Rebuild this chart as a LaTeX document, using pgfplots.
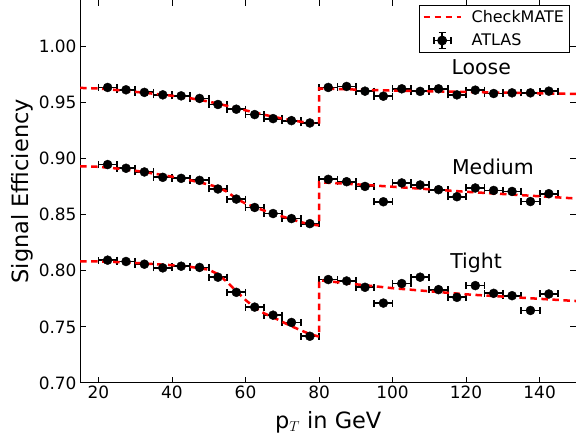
\documentclass[border=0pt]{standalone}
\usepackage{fontspec}
\setmainfont{DejaVu Sans}
\usepackage{pgfplots}
\pgfplotsset{compat=1.18}

% ATLAS measurement: bin centre (GeV) and efficiency
\pgfplotstableread{
x     y
22.5  0.9636
27.5  0.9615
32.5  0.9592
37.5  0.9570
42.5  0.9561
47.5  0.9538
52.5  0.9484
57.5  0.9442
62.5  0.9394
67.5  0.9358
72.5  0.9340
77.5  0.9319
82.5  0.9636
87.5  0.9645
92.5  0.9603
97.5  0.9558
102.5 0.9624
107.5 0.9601
112.5 0.9624
117.5 0.9570
122.5 0.9612
127.5 0.9582
132.5 0.9588
137.5 0.9588
142.5 0.9603
}\looseatlas
\pgfplotstableread{
x     y
22.5  0.8948
27.5  0.8915
32.5  0.8882
37.5  0.8834
42.5  0.8825
47.5  0.8807
52.5  0.8730
57.5  0.8640
62.5  0.8565
67.5  0.8511
72.5  0.8466
77.5  0.8421
82.5  0.8816
87.5  0.8795
92.5  0.8753
97.5  0.8616
102.5 0.8784
107.5 0.8766
112.5 0.8724
117.5 0.8661
122.5 0.8739
127.5 0.8717
132.5 0.8708
137.5 0.8618
142.5 0.8688
}\mediumatlas
\pgfplotstableread{
x     y
22.5  0.8095
27.5  0.8083
32.5  0.8059
37.5  0.8026
42.5  0.8041
47.5  0.8030
52.5  0.7943
57.5  0.7808
62.5  0.7676
67.5  0.7604
72.5  0.7539
77.5  0.7416
82.5  0.7922
87.5  0.7909
92.5  0.7853
97.5  0.7712
102.5 0.7886
107.5 0.7943
112.5 0.7832
117.5 0.7763
122.5 0.7868
127.5 0.7799
132.5 0.7778
137.5 0.7646
142.5 0.7793
}\tightatlas

% CheckMATE parametrisation (step at 80 GeV)
\pgfplotstableread{
x    y
15   0.9632
20   0.9627
25   0.9613
30   0.9597
35   0.9580
40   0.9562
45   0.9540
50   0.9510
55   0.9472
60   0.9432
65   0.9393
70   0.9358
75   0.9330
80   0.9312
80   0.9627
90   0.9617
100  0.9608
120  0.9596
150  0.9578
}\loosecm
\pgfplotstableread{
x    y
15   0.8933
20   0.8928
25   0.8913
30   0.8893
35   0.8868
40   0.8840
45   0.8808
50   0.8770
52.5 0.8745
55   0.8705
57.5 0.8645
60   0.8600
62.5 0.8568
65   0.8538
67.5 0.8510
70   0.8485
72.5 0.8460
75   0.8435
77.5 0.8415
80   0.8405
80   0.8790
90   0.8772
100  0.8750
120  0.8705
150  0.8645
}\mediumcm
\pgfplotstableread{
x    y
15   0.8083
20   0.8083
25   0.8078
30   0.8070
35   0.8060
40   0.8050
45   0.8035
50   0.8010
52.5 0.7970
55   0.7900
57.5 0.7818
60   0.7740
62.5 0.7672
65   0.7622
67.5 0.7585
70   0.7545
72.5 0.7505
75   0.7470
77.5 0.7435
80   0.7413
80   0.7916
90   0.7880
100  0.7845
120  0.7790
150  0.7730
}\tightcm

\newcommand{\tickfont}{\fontsize{17}{20}\selectfont}
\newcommand{\legendfont}{\fontsize{16}{19}\selectfont}
\newcommand{\labelfont}{\fontsize{22.5}{26}\selectfont}
\newcommand{\notefont}{\fontsize{20.5}{24}\selectfont}

\tikzset{
  cmline/.style={red, line width=2.5bp, dash pattern=on 6.5bp off 4.5bp},
  ebar/.style={black, line width=1.8bp},
}
\pgfplotsset{
  atlas/.style={
    black, only marks, mark=*, mark size=4.5bp,
    mark options={draw=black, fill=black},
    error bars/x dir=both, error bars/x fixed=2.5,
    error bars/error bar style={line width=1.8bp},
    error bars/error mark options={line width=1.8bp, mark size=3.5bp, rotate=90},
  },
  checkmate/.style={cmline, no markers},
}

\begin{document}
\begin{tikzpicture}
\begin{axis}[
  at={(0,0)}, anchor=south west,
  scale only axis, width=496bp, height=383bp,
  xmin=15, xmax=150, ymin=0.70, ymax=1.042,
  xtick={20,40,60,80,100,120,140},
  ytick={0.70,0.75,0.80,0.85,0.90,0.95,1.00},
  tick align=inside, major tick length=6bp,
  tick style={black, line width=0.8bp},
  axis line style={line width=1bp},
  minor tick num=0,
  /pgf/number format/assume math mode=true,
  ticklabel style={font=\tickfont},
  yticklabel style={/pgf/number format/.cd, fixed, fixed zerofill, precision=2},
  xticklabel style={/pgf/number format/.cd, fixed, precision=0},
  every axis y label/.style={at={(axis description cs:-0.117,0.5)}, anchor=center, rotate=90, font=\labelfont},
  every axis x label/.style={at={(axis description cs:0.5,-0.120)}, anchor=base, font=\labelfont},
  xlabel={p$_{T}$ in GeV},
  ylabel={Signal Efficiency},
  legend style={at={(1,1)}, anchor=north east, xshift=-7bp, yshift=-5bp,
    draw=black, line width=0.8bp, fill=white, font=\legendfont,
    inner sep=3bp, row sep=6bp,
    cells={anchor=west}},
]
% legend entries
\addlegendimage{legend image code/.code={
    \path[draw=none, fill=none] (0bp,-8bp) rectangle (46bp,8bp);
    \draw[cmline] (0bp,0bp) -- (37bp,0bp);}}
\addlegendentry{CheckMATE}
\addlegendimage{legend image code/.code={
    \path[draw=none, fill=none] (0bp,-8bp) rectangle (46bp,8bp);
    \draw[ebar] (10bp,0bp) -- (27bp,0bp);
    \draw[ebar] (10bp,-3.5bp) -- (10bp,3.5bp);
    \draw[ebar] (27bp,-3.5bp) -- (27bp,3.5bp);
    \draw[ebar] (18.5bp,-8bp) -- (18.5bp,8bp);
    \draw[ebar] (15bp,-8bp) -- (22bp,-8bp);
    \draw[ebar] (15bp,8bp) -- (22bp,8bp);
    \fill[black] (18.5bp,0bp) circle (4.5bp);
  }}
\addlegendentry{ATLAS}
% measured points
\addplot[forget plot, atlas] table[x=x, y=y] {\looseatlas};
\addplot[forget plot, atlas] table[x=x, y=y] {\mediumatlas};
\addplot[forget plot, atlas] table[x=x, y=y] {\tightatlas};
% simulated efficiencies
\addplot[forget plot, checkmate] table[x=x, y=y] {\loosecm};
\addplot[forget plot, checkmate] table[x=x, y=y] {\mediumcm};
\addplot[forget plot, checkmate] table[x=x, y=y] {\tightcm};
\node[font=\notefont] at (axis cs:124.1,0.982) {Loose};
\node[font=\notefont] at (axis cs:127.3,0.893) {Medium};
\node[font=\notefont] at (axis cs:122.7,0.807) {Tight};
\end{axis}
\pgfresetboundingbox
\useasboundingbox (-80bp,-54bp) rectangle (495.6bp,382.6bp);
\end{tikzpicture}
\end{document}
